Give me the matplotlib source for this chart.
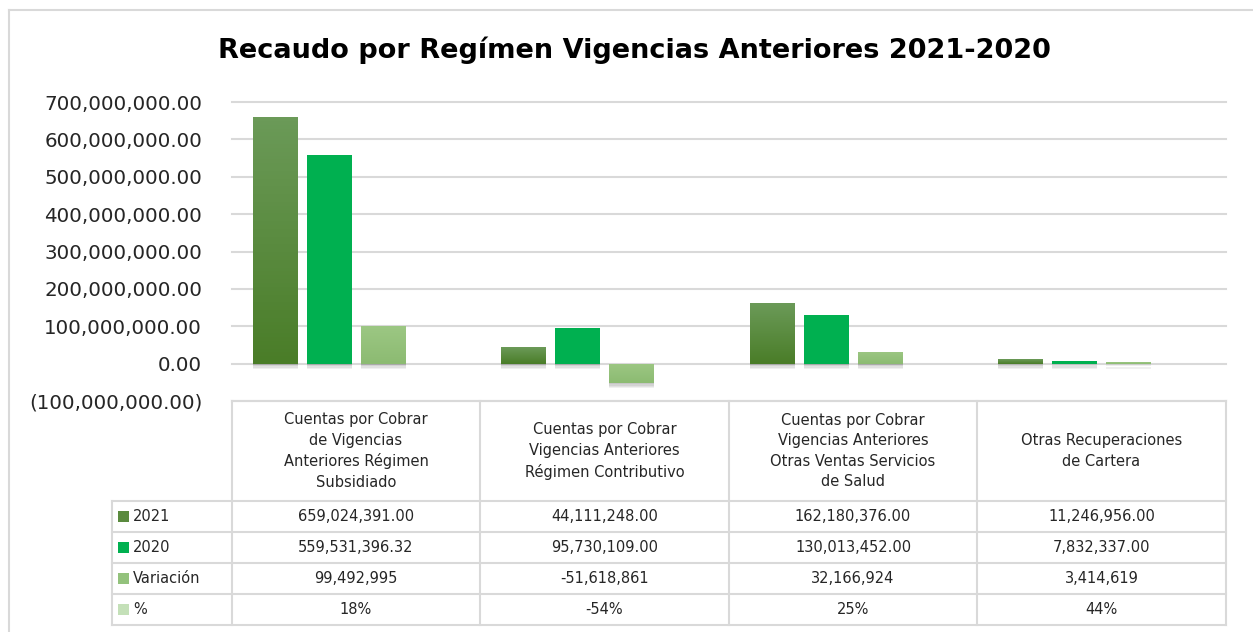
import numpy as np
import matplotlib
matplotlib.use("Agg")
import matplotlib.pyplot as plt
import matplotlib.patheffects as pe
from matplotlib.lines import Line2D
from matplotlib.patches import Rectangle
from matplotlib.colors import LinearSegmentedColormap
from matplotlib.ticker import FuncFormatter

# data
categories = [
    "Cuentas por Cobrar\nde Vigencias\nAnteriores Régimen\nSubsidiado",
    "Cuentas por Cobrar\nVigencias Anteriores\nRégimen Contributivo",
    "Cuentas por Cobrar\nVigencias Anteriores\nOtras Ventas Servicios\nde Salud",
    "Otras Recuperaciones\nde Cartera",
]
series_names = ["2021", "2020", "Variación", "%"]
v2021 = [659024391.00, 44111248.00, 162180376.00, 11246956.00]
v2020 = [559531396.32, 95730109.00, 130013452.00, 7832337.00]
variacion = [99492995, -51618861, 32166924, 3414619]
pct = [0.18, -0.54, 0.25, 0.44]
y_ticks = [-100e6, 0, 100e6, 200e6, 300e6, 400e6, 500e6, 600e6, 700e6]

W, H = 1253, 632
plt.rcParams['font.family'] = ['DejaVu Sans']
txt_col = "#262626"
grid_col = "#d9d9d9"

def fx(x):
    return x / W

def fy(y):
    return 1 - y / H

fig = plt.figure(figsize=(W / 100, H / 100), dpi=100)
fig.patch.set_facecolor("white")

ax = fig.add_axes([fx(232), fy(401), fx(1226) - fx(232), fy(102) - fy(401)])

# colours: (top, bottom) of the gradient fill
fills = [("#6b9a58", "#4a7d28"), ("#00b050", "#00b050"),
         ("#9cc783", "#8cbb72"), ("#cfe6c4", "#b9d8ab")]
series = [v2021, v2020, variacion, pct]
offsets = [-0.325, -0.108, 0.108, 0.325]
bw = 0.181
x = np.arange(len(categories))

shadow = [pe.SimplePatchShadow(offset=(0, -k), shadow_rgbFace="black", alpha=0.06)
          for k in (1, 2, 3, 4)] + [pe.Normal()]

for vals, off, (ctop, cbot) in zip(series, offsets, fills):
    bars = ax.bar(x + off, vals, width=bw, color=cbot, zorder=2, linewidth=0)
    for b in bars:
        b.set_path_effects(shadow)
        if ctop != cbot and abs(b.get_height()) > 1:
            x0, w = b.get_x(), b.get_width()
            y0, y1 = sorted([b.get_y(), b.get_y() + b.get_height()])
            cmap = LinearSegmentedColormap.from_list("g", [ctop, cbot])
            im = ax.imshow(np.linspace(0, 1, 64).reshape(-1, 1), cmap=cmap,
                           extent=[x0, x0 + w, y0, y1], origin="upper",
                           aspect="auto", zorder=2.5)
            im.set_clip_path(b)

ax.set_xlim(-0.5, 3.5)
ax.set_ylim(-100e6, 700e6)
ax.set_aspect("auto")
ax.set_yticks(y_ticks)
ax.yaxis.set_major_formatter(FuncFormatter(
    lambda v, p: f"({abs(v):,.2f})" if v < 0 else f"{v:,.2f}"))
ax.tick_params(axis="y", length=0, pad=21.5, labelsize=14.3, labelcolor=txt_col)
ax.set_xticks([])
ax.grid(axis="y", color=grid_col, linewidth=1.5, zorder=0)
for gl in ax.get_ygridlines():
    gl.set_clip_on(False)
ax.set_axisbelow(True)
for s in ax.spines.values():
    s.set_visible(False)

fig.text(fx(634), fy(50), "Recaudo por Regímen Vigencias Anteriores 2021-2020",
         ha="center", va="center", fontsize=19.5, fontweight="bold", color="black")

# outer chart border (only left and top fall inside the image)
fig.add_artist(Line2D([fx(9), fx(9)], [fy(10), 0], color=grid_col, lw=1.5))
fig.add_artist(Line2D([fx(9), 1], [fy(10), fy(10)], color=grid_col, lw=1.5))

# data table
col_edges = [232, 480, 729, 977, 1226]
row_edges = [501, 532, 563, 594, 625]
fig.add_artist(Line2D([fx(232), fx(1226)], [fy(401), fy(401)], color=grid_col, lw=1.5))
for yy in row_edges:
    fig.add_artist(Line2D([fx(112), fx(1226)], [fy(yy), fy(yy)], color=grid_col, lw=1.5))
for xx in col_edges:
    fig.add_artist(Line2D([fx(xx), fx(xx)], [fy(401), fy(625)], color=grid_col, lw=1.5))
fig.add_artist(Line2D([fx(112), fx(112)], [fy(501), fy(625)], color=grid_col, lw=1.5))

for i, cat in enumerate(categories):
    cx = (col_edges[i] + col_edges[i + 1]) / 2
    fig.text(fx(cx), fy(451), cat, ha="center", va="center", fontsize=10.5,
             color=txt_col, linespacing=1.45)

row_text = [
    [f"{v:,.2f}" for v in v2021],
    [f"{v:,.2f}" for v in v2020],
    [f"{v:,}" for v in variacion],
    [f"{round(v * 100)}%" for v in pct],
]
key_cols = ["#5a8a3e", "#00b050", "#93c27c", "#c4e0b8"]
for r, (name, vals) in enumerate(zip(series_names, row_text)):
    cy = (row_edges[r] + row_edges[r + 1]) / 2
    fig.add_artist(Rectangle((fx(118), fy(cy + 5.5)), fx(11), fy(0) - fy(11),
                             facecolor=key_cols[r], edgecolor="none"))
    fig.text(fx(133), fy(cy), name, ha="left", va="center", fontsize=10.5, color=txt_col)
    for i, t in enumerate(vals):
        cx = (col_edges[i] + col_edges[i + 1]) / 2
        fig.text(fx(cx), fy(cy), t, ha="center", va="center", fontsize=10.5, color=txt_col)

fig.savefig("out.png", dpi=100, facecolor="white")
